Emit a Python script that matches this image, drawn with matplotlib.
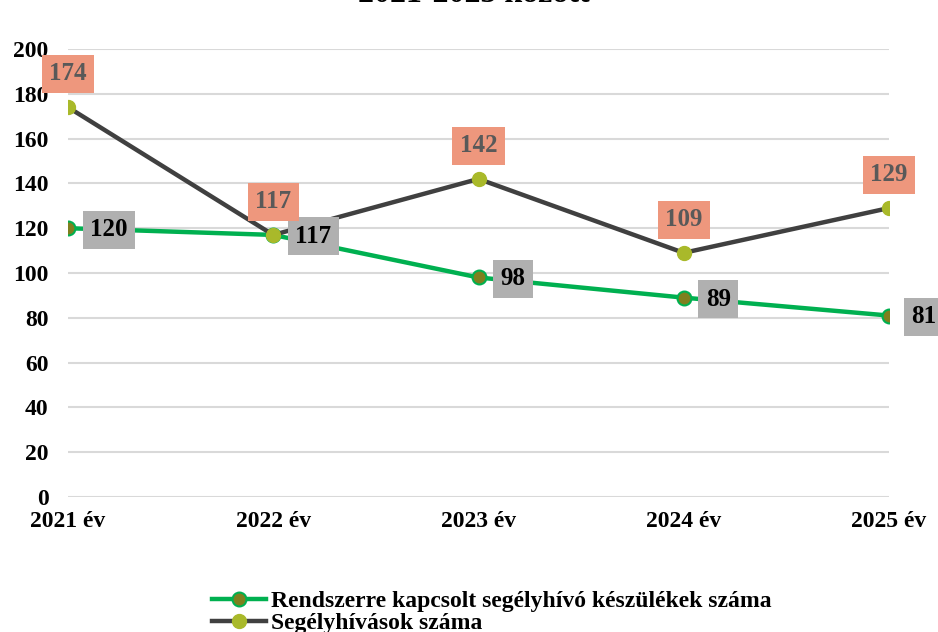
import numpy as np
import matplotlib
matplotlib.use("Agg")
import matplotlib.pyplot as plt

plt.rcParams['font.family'] = ['Liberation Serif', 'DejaVu Serif']
plt.rcParams['font.weight'] = 'bold'

years = ["2021 év", "2022 év", "2023 év", "2024 év", "2025 év"]
eszkozok = [120, 117, 98, 89, 81]      # Rendszerre kapcsolt segélyhívó készülékek száma
hivasok = [174, 117, 142, 109, 129]    # Segélyhívások száma
yticks = [0, 20, 40, 60, 80, 100, 120, 140, 160, 180, 200]

fig = plt.figure(figsize=(9.38, 6.32), dpi=100)
ax = fig.add_axes([68/938, 1-497/632, (889-68)/938, (497-49)/632])

x = np.arange(len(years))
ax.plot(x, eszkozok, color='#00B050', lw=3.2, marker='o', ms=10,
        mfc='#7F7F1E', mec='#00B050', mew=1.5, zorder=3,
        label='Rendszerre kapcsolt segélyhívó készülékek száma')
ax.plot(x, hivasok, color='#404040', lw=3.2, marker='o', ms=10,
        mfc='#A9B92A', mec='#A9B92A', zorder=3,
        label='Segélyhívások száma')

for xi, v in zip(x, eszkozok):
    ax.annotate(str(v), (xi, v), xytext=(16, -1), textcoords='offset points',
                ha='left', va='center', fontsize=18, fontweight='bold', color='black',
                bbox=dict(boxstyle='square,pad=0.3', fc='#B0B0B0', ec='none'), zorder=5)
for xi, v in zip(x, hivasok):
    ax.annotate(str(v), (xi, v), xytext=(0, 24), textcoords='offset points',
                ha='center', va='center', fontsize=18, fontweight='bold', color='#595959',
                bbox=dict(boxstyle='square,pad=0.3', fc='#EE977D', ec='none'), zorder=5)

ax.set_xlim(0, len(years)-1)
ax.set_ylim(0, 200)
ax.set_yticks(yticks)
ax.set_xticks(x)
ax.set_xticklabels(years)
ax.tick_params(length=0, labelsize=17)
ax.tick_params(axis='y', pad=14)
ax.tick_params(axis='x', pad=10)
for lab in ax.get_xticklabels() + ax.get_yticklabels():
    lab.set_fontweight('bold')
ax.grid(axis='y', color='#D9D9D9', lw=1.5)
ax.set_axisbelow(True)
for s in ax.spines.values():
    s.set_visible(False)

fig.text(474/938, 1-2.5/632, "2021-2025 között", ha='center', va='baseline',
         fontsize=23, fontweight='bold')

fig.legend(loc='upper left', bbox_to_anchor=(200/938, 1-579/632), frameon=False,
           prop={'size': 17, 'weight': 'bold'}, handlelength=2.3, handletextpad=0.2,
           labelspacing=0.0, borderpad=0)

fig.savefig("out.png", dpi=100)
